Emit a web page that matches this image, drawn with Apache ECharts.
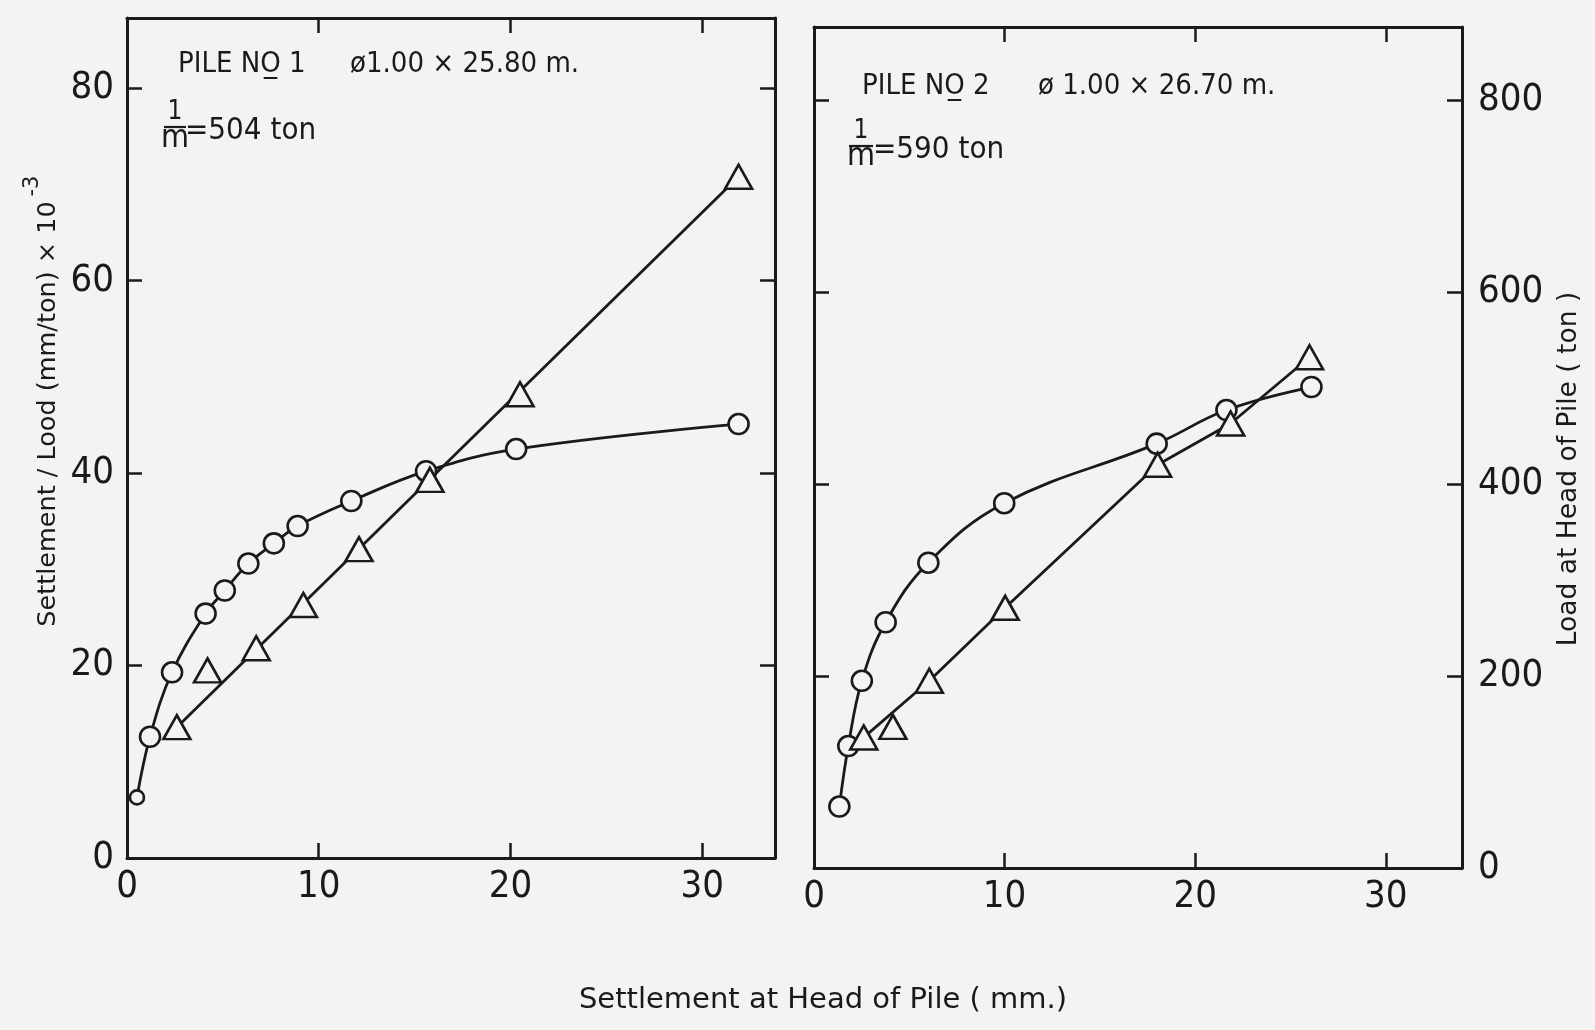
<!DOCTYPE html>
<html>
<head>
<meta charset="utf-8">
<script src="https://cdn.jsdelivr.net/npm/echarts@6.0.0/dist/echarts.min.js"></script>
<style>
html,body{margin:0;padding:0;background:#f3f3f3;}
#chart{width:1595px;height:1030px;}
</style>
</head>
<body>
<div id="chart"></div>
<script>
// ---------- DATA ----------
// Pile No.1 : load-settlement points (circles), load in ton
const p1CircleSettlement = [0.52, 1.2, 2.35, 4.1, 5.1, 6.33, 7.66, 8.9, 11.7, 15.6, 20.3, 31.9];
const p1Load             = [63, 126, 193, 254, 278, 306, 327, 345, 371, 402, 425, 451];
// Pile No.1 : settlement/load points (triangles), mm/ton x 10^-3
const p1TriSettlement    = [2.6, 4.2, 6.74, 9.2, 12.1, 15.8, 20.5, 31.9];
const p1Ratio            = [13.6, 19.5, 21.8, 26.3, 32.1, 39.3, 48.2, 70.8];
// Pile No.1 : straight line drawn through the triangles
const p1LineSettlement   = [2.6, 31.9];
const p1LineRatio        = [13.6, 70.8];

// Pile No.2 : load-settlement points (circles)
const p2CircleSettlement = [1.33, 1.80, 2.51, 3.76, 6.0, 9.98, 17.98, 21.64, 26.1];
const p2Load             = [64, 127, 195, 256, 318, 380, 442, 477, 501];
// Pile No.2 : settlement/load points (triangles)
const p2TriSettlement    = [2.61, 4.14, 6.05, 10.03, 18.03, 21.86, 26.0];
const p2Ratio            = [13.6, 14.7, 19.5, 27.1, 42.0, 46.3, 53.2];
// Pile No.2 : line drawn through the triangles
const p2LineSettlement   = [2.61, 6.05, 10.03, 18.03, 21.86, 26.0];
const p2LineRatio        = [13.6, 19.5, 27.1, 42.0, 46.3, 53.2];

// ---------- STYLE ----------
const INK = '#1a1a1a';
const BG = '#f3f3f3';
const NARROW = "'Liberation Sans Narrow','DejaVu Sans Condensed','Arial Narrow',sans-serif";
const SANS = "'DejaVu Sans','Noto Sans',sans-serif";

function pairs(xs, ys) { return xs.map((x, i) => [x, ys[i]]); }

const axisLine = { show: true, onZero: false, lineStyle: { color: INK, width: 3 } };
const tick = { show: true, inside: true, length: 15, lineStyle: { color: INK, width: 2.5 } };
const lbl = { color: INK, fontFamily: NARROW, fontSize: 38 };

function xAx(grid, pos, max, showLabel) {
  return {
    gridIndex: grid, type: 'value', position: pos, min: 0, max: max, interval: 10,
    axisLine: axisLine, axisTick: tick, splitLine: { show: false },
    axisLabel: showLabel ? Object.assign({ margin: 10, showMaxLabel: false }, lbl) : { show: false }
  };
}
function yAx(grid, pos, max, interval, showLabel, margin) {
  return {
    gridIndex: grid, type: 'value', position: pos, min: 0, max: max, interval: interval,
    axisLine: axisLine, axisTick: tick, splitLine: { show: false },
    axisLabel: showLabel ? Object.assign({ margin: margin, showMaxLabel: false }, lbl) : { show: false }
  };
}

const markStyle = { color: BG, borderColor: INK, borderWidth: 2.6, opacity: 1 };
const lineStyle = { color: INK, width: 2.8 };

function curveSeries(name, xi, yi, xs, ys, firstSize) {
  return {
    type: 'line', name: name, xAxisIndex: xi, yAxisIndex: yi, data: pairs(xs, ys),
    smooth: 0.4, symbol: 'circle', showAllSymbol: true,
    symbolSize: (v, p) => (p.dataIndex === 0 ? firstSize : 20),
    lineStyle: lineStyle, itemStyle: markStyle, z: 3, silent: true
  };
}
function fitSeries(name, xi, yi, xs, ys) {
  return {
    type: 'line', name: name, xAxisIndex: xi, yAxisIndex: yi, data: pairs(xs, ys),
    symbol: 'none', lineStyle: lineStyle, z: 2, silent: true
  };
}
function triSeries(name, xi, yi, xs, ys) {
  return {
    type: 'scatter', name: name, xAxisIndex: xi, yAxisIndex: yi, data: pairs(xs, ys),
    symbol: 'triangle', symbolSize: [27, 24], itemStyle: markStyle, z: 4, silent: true
  };
}

function txt(x, y, text, size, family) {
  return {
    type: 'text', x: x, y: y, silent: true,
    style: {
      text: text, fill: INK, fontSize: size, fontFamily: family,
      align: 'left', verticalAlign: 'middle', textAlign: 'left', textVerticalAlign: 'middle'
    }
  };
}
function centered(x, y, text, size, family, rotation) {
  return {
    type: 'text', x: x, y: y, rotation: rotation || 0, silent: true,
    style: {
      text: text, fill: INK, fontSize: size, fontFamily: family,
      align: 'center', verticalAlign: 'middle', textAlign: 'center', textVerticalAlign: 'middle'
    }
  };
}
function bar(x1, x2, y) {
  return { type: 'line', silent: true, shape: { x1: x1, y1: y, x2: x2, y2: y }, style: { stroke: INK, lineWidth: 2.2 } };
}

const chart = echarts.init(document.getElementById('chart'), null, { renderer: 'canvas' });
chart.setOption({
  animation: false,
  backgroundColor: BG,
  grid: [
    { left: 127, top: 18, width: 648, height: 840, show: false },
    { left: 814, top: 27, width: 648, height: 841, show: false }
  ],
  xAxis: [
    xAx(0, 'bottom', 33.8, true),
    xAx(0, 'top', 33.8, false),
    xAx(1, 'bottom', 34.0, true),
    xAx(1, 'top', 34.0, false)
  ],
  yAxis: [
    yAx(0, 'left', 87.3, 20, true, 13),
    yAx(0, 'right', 873, 200, false, 0),
    yAx(1, 'left', 87.6, 20, false, 0),
    yAx(1, 'right', 876, 200, true, 16)
  ],
  series: [
    curveSeries('Pile 1 load', 0, 1, p1CircleSettlement, p1Load, 14),
    fitSeries('Pile 1 settlement/load line', 0, 0, p1LineSettlement, p1LineRatio),
    triSeries('Pile 1 settlement/load', 0, 0, p1TriSettlement, p1Ratio),
    curveSeries('Pile 2 load', 2, 3, p2CircleSettlement, p2Load, 20),
    fitSeries('Pile 2 settlement/load line', 2, 2, p2LineSettlement, p2LineRatio),
    triSeries('Pile 2 settlement/load', 2, 2, p2TriSettlement, p2Ratio)
  ],
  graphic: { elements: [
    // Pile 1 annotation
    txt(178, 64, 'PILE NO\u0332 1', 29, NARROW),
    txt(350, 64, '\u00f81.00 \u00d7 25.80 m.', 29, NARROW),
    centered(175, 112, '1', 26, NARROW),
    bar(164, 186, 127),
    centered(175, 139, 'm', 32, NARROW),
    txt(185, 131, '=504 ton', 31, NARROW),
    // Pile 2 annotation
    txt(862, 86, 'PILE NO\u0332 2', 29, NARROW),
    txt(1038, 86, '\u00f8 1.00 \u00d7 26.70 m.', 29, NARROW),
    centered(861, 131, '1', 26, NARROW),
    bar(849, 873, 146),
    centered(861, 157, 'm', 32, NARROW),
    txt(873, 150, '=590 ton', 31, NARROW),
    // axis titles
    centered(823, 1000, 'Settlement at Head of Pile ( mm.)', 29, SANS),
    centered(48, 414, 'Settlement / Lood (mm/ton) \u00d7 10', 25.5, SANS, Math.PI / 2),
    centered(33, 186, '-3', 21, SANS, Math.PI / 2),
    centered(1569, 469, 'Load at Head of Pile ( ton )', 26.5, SANS, Math.PI / 2)
  ] }
});
</script>
</body>
</html>
